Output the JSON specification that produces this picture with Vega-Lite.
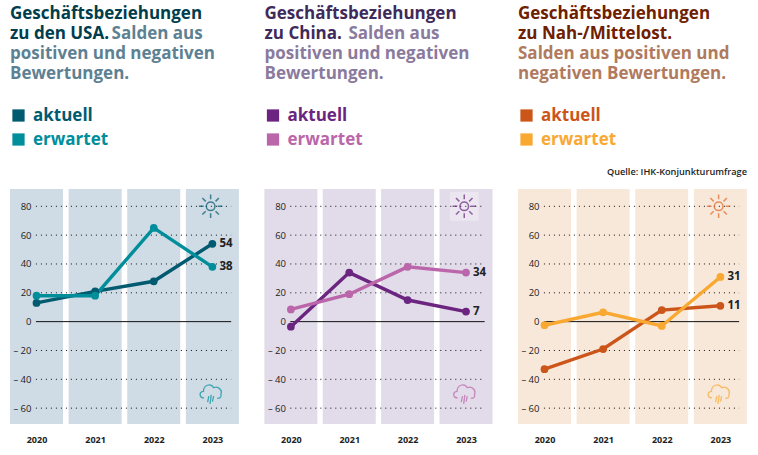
{
  "$schema": "https://vega.github.io/schema/vega-lite/v6.json",
  "background": "white",
  "padding": {"left": 9, "top": 5, "right": 0, "bottom": 0},
  "spacing": 24.5,
  "resolve": {"scale": {"color": "independent"}, "legend": {"color": "independent"}},
  "config": {
    "view": {"stroke": null},
    "font": "Open Sans",
    "scale": {"continuousPadding": 0},
    "title": {
      "anchor": "start", "frame": "group", "font": "Open Sans", "fontSize": 17, "fontWeight": 700, "lineHeight": 20,
      "subtitleFont": "Open Sans", "subtitleFontSize": 17, "subtitleFontWeight": 700, "subtitleLineHeight": 20, "offset": 24
    },
    "axisX": {"title": null, "format": "d", "grid": false, "domain": false, "ticks": false, "labelFontSize": 9, "labelFontWeight": 700, "labelColor": "#222222", "labelPadding": 11},
    "axisY": {"title": null, "grid": false, "domain": false, "ticks": false, "labelFontSize": 9.5, "labelColor": "#222222", "labelPadding": -21, "labelExpr": "datum.value < 0 ? '– ' + abs(datum.value) : datum.value"},
    "legend": {"orient": "none", "legendX": 0, "legendY": -82, "title": null, "symbolType": "square", "symbolSize": 150, "symbolStrokeWidth": 0, "labelFontSize": 17, "labelFontWeight": 700, "labelOffset": 6, "rowPadding": 6, "symbolOffset": 0}
  },
  "datasets": {
    "years": [{"year": 2020}, {"year": 2021}, {"year": 2022}, {"year": 2023}],
    "ticks": [{"tick": 80}, {"tick": 60}, {"tick": 40}, {"tick": 20}, {"tick": -20}, {"tick": -40}, {"tick": -60}],
    "usa": [
      {"year": 2020, "reihe": "aktuell", "saldo": 13},
      {"year": 2021, "reihe": "aktuell", "saldo": 21},
      {"year": 2022, "reihe": "aktuell", "saldo": 28},
      {"year": 2023, "reihe": "aktuell", "saldo": 54},
      {"year": 2020, "reihe": "erwartet", "saldo": 18},
      {"year": 2021, "reihe": "erwartet", "saldo": 18},
      {"year": 2022, "reihe": "erwartet", "saldo": 65},
      {"year": 2023, "reihe": "erwartet", "saldo": 38}
    ],
    "china": [
      {"year": 2020, "reihe": "aktuell", "saldo": -3.5},
      {"year": 2021, "reihe": "aktuell", "saldo": 34},
      {"year": 2022, "reihe": "aktuell", "saldo": 15},
      {"year": 2023, "reihe": "aktuell", "saldo": 7},
      {"year": 2020, "reihe": "erwartet", "saldo": 8.5},
      {"year": 2021, "reihe": "erwartet", "saldo": 19},
      {"year": 2022, "reihe": "erwartet", "saldo": 38},
      {"year": 2023, "reihe": "erwartet", "saldo": 34}
    ],
    "nahost": [
      {"year": 2020, "reihe": "aktuell", "saldo": -33},
      {"year": 2021, "reihe": "aktuell", "saldo": -19},
      {"year": 2022, "reihe": "aktuell", "saldo": 8},
      {"year": 2023, "reihe": "aktuell", "saldo": 11},
      {"year": 2020, "reihe": "erwartet", "saldo": -2.5},
      {"year": 2021, "reihe": "erwartet", "saldo": 6.5},
      {"year": 2022, "reihe": "erwartet", "saldo": -3},
      {"year": 2023, "reihe": "erwartet", "saldo": 31}
    ]
  },
  "hconcat": [
    {
      "width": 229,
      "height": 235,
      "title": {
        "text": ["Geschäftsbeziehungen", "zu den USA."],
        "subtitle": ["\u200b\u00a0\u00a0\u00a0\u00a0\u00a0\u00a0\u00a0\u00a0\u00a0\u00a0\u00a0\u00a0\u00a0\u00a0\u00a0\u00a0\u00a0\u00a0\u00a0\u00a0\u00a0\u00a0\u00a0Salden aus", "positiven und negativen", "Bewertungen."],
        "color": "#003d4d",
        "subtitleColor": "#5d8193",
        "subtitlePadding": -17
      },
      "layer": [
        {
          "data": {"name": "years"},
          "mark": {"type": "bar", "size": 53, "color": "#cfdbe5"},
          "encoding": {
            "x": {"field": "year", "type": "quantitative", "scale": {"domain": [2019.548, 2023.454]}, "axis": {"values": [2020, 2021, 2022, 2023]}},
            "y": {"datum": -71, "type": "quantitative", "scale": {"domain": [-71, 92], "nice": false}},
            "y2": {"datum": 92}
          }
        },
        {
          "data": {"name": "ticks"},
          "mark": {"type": "rule", "color": "#111111", "strokeDash": [1, 4], "strokeWidth": 1},
          "encoding": {
            "x": {"datum": 2019.99, "type": "quantitative", "scale": {"domain": [2019.548, 2023.454]}},
            "x2": {"datum": 2023.32},
            "y": {"field": "tick", "type": "quantitative", "scale": {"domain": [-71, 92], "nice": false}, "axis": {"values": [80, 60, 40, 20, 0, -20, -40, -60], "tickCount": 8, "zindex": 1, "labelOverlap": false}}
          }
        },
        {
          "data": {"values": [{"tick": 0}]},
          "mark": {"type": "rule", "color": "#111111", "strokeWidth": 1},
          "encoding": {
            "x": {"datum": 2019.99, "type": "quantitative", "scale": {"domain": [2019.548, 2023.454]}},
            "x2": {"datum": 2023.32},
            "y": {"field": "tick", "type": "quantitative", "scale": {"domain": [-71, 92], "nice": false}}
          }
        },
        {
          "data": {"values": [{"icon": "sonne"}]},
          "mark": {"type": "point", "filled": false, "size": 576, "strokeWidth": 1.5, "color": "#00596e", "shape": "M0.36,0A0.36,0.36,0,1,1,-0.36,0A0.36,0.36,0,1,1,0.36,0ZM0,-0.58L0,-0.98M0,0.58L0,0.98M-0.58,0L-0.98,0M0.58,0L0.98,0M0.41,-0.41L0.69,-0.69M-0.41,-0.41L-0.69,-0.69M0.41,0.41L0.69,0.69M-0.41,0.41L-0.69,0.69"},
          "encoding": {
            "x": {"datum": 2022.97, "type": "quantitative", "scale": {"domain": [2019.548, 2023.454]}},
            "y": {"datum": 80, "type": "quantitative", "scale": {"domain": [-71, 92], "nice": false}}
          }
        },
        {
          "data": {"values": [{"icon": "regen"}]},
          "mark": {"type": "point", "filled": false, "size": 576, "strokeWidth": 1.3, "color": "#00909e", "shape": "M-0.55,0.35C-0.95,0.35,-1,-0.15,-0.6,-0.2C-0.6,-0.7,0,-0.95,0.25,-0.5C0.7,-0.7,1,-0.2,0.85,0.05C0.95,0.3,0.75,0.38,0.55,0.38M-0.15,0.2L-0.25,0.7M0.05,0.1L-0.05,0.85M0.25,0.2L0.15,0.65"},
          "encoding": {
            "x": {"datum": 2022.97, "type": "quantitative", "scale": {"domain": [2019.548, 2023.454]}},
            "y": {"datum": -50, "type": "quantitative", "scale": {"domain": [-71, 92], "nice": false}}
          }
        },
        {
          "data": {"name": "usa"},
          "mark": {"type": "line", "strokeWidth": 3.4, "point": {"size": 60, "filled": true}},
          "encoding": {
            "x": {"field": "year", "type": "quantitative", "scale": {"domain": [2019.548, 2023.454]}},
            "y": {"field": "saldo", "type": "quantitative", "scale": {"domain": [-71, 92], "nice": false}},
            "color": {"field": "reihe", "type": "nominal", "scale": {"domain": ["aktuell", "erwartet"], "range": ["#005a70", "#008e9b"]}, "legend": {"encode": {"labels": {"update": {"fill": {"signal": "datum.value === 'aktuell' ? '#005a70' : '#008e9b'"}}}, "symbols": {"update": {"fill": {"signal": "datum.value === 'aktuell' ? '#005a70' : '#008e9b'"}}}}}}
          }
        },
        {
          "data": {"name": "usa"},
          "transform": [{"filter": "datum.year === 2023"}],
          "mark": {"type": "text", "align": "left", "dx": 7, "fontSize": 11.5, "fontWeight": 700, "color": "#222222"},
          "encoding": {
            "x": {"field": "year", "type": "quantitative", "scale": {"domain": [2019.548, 2023.454]}},
            "y": {"field": "saldo", "type": "quantitative", "scale": {"domain": [-71, 92], "nice": false}},
            "text": {"field": "saldo", "type": "quantitative"}
          }
        }
      ]
    },
    {
      "width": 228,
      "height": 235,
      "title": {
        "text": ["Geschäftsbeziehungen", "zu China."],
        "subtitle": ["\u200b\u00a0\u00a0\u00a0\u00a0\u00a0\u00a0\u00a0\u00a0\u00a0\u00a0\u00a0\u00a0\u00a0\u00a0\u00a0\u00a0\u00a0\u00a0\u00a0Salden aus", "positiven und negativen", "Bewertungen."],
        "color": "#3f2a5c",
        "subtitleColor": "#8a7a9e",
        "subtitlePadding": -17
      },
      "layer": [
        {
          "data": {"name": "years"},
          "mark": {"type": "bar", "size": 53, "color": "#e2dbe9"},
          "encoding": {
            "x": {"field": "year", "type": "quantitative", "scale": {"domain": [2019.548, 2023.454]}, "axis": {"values": [2020, 2021, 2022, 2023]}},
            "y": {"datum": -71, "type": "quantitative", "scale": {"domain": [-71, 92], "nice": false}},
            "y2": {"datum": 92}
          }
        },
        {
          "data": {"values": [{"icon": "feld"}]},
          "mark": {"type": "point", "shape": "square", "filled": true, "size": 841, "color": "#ebe6f0", "opacity": 1},
          "encoding": {
            "x": {"datum": 2022.97, "type": "quantitative", "scale": {"domain": [2019.548, 2023.454]}},
            "y": {"datum": 80, "type": "quantitative", "scale": {"domain": [-71, 92], "nice": false}}
          }
        },
        {
          "data": {"name": "ticks"},
          "mark": {"type": "rule", "color": "#111111", "strokeDash": [1, 4], "strokeWidth": 1},
          "encoding": {
            "x": {"datum": 2019.99, "type": "quantitative", "scale": {"domain": [2019.548, 2023.454]}},
            "x2": {"datum": 2023.32},
            "y": {"field": "tick", "type": "quantitative", "scale": {"domain": [-71, 92], "nice": false}, "axis": {"values": [80, 60, 40, 20, 0, -20, -40, -60], "tickCount": 8, "zindex": 1, "labelOverlap": false}}
          }
        },
        {
          "data": {"values": [{"tick": 0}]},
          "mark": {"type": "rule", "color": "#111111", "strokeWidth": 1},
          "encoding": {
            "x": {"datum": 2019.99, "type": "quantitative", "scale": {"domain": [2019.548, 2023.454]}},
            "x2": {"datum": 2023.32},
            "y": {"field": "tick", "type": "quantitative", "scale": {"domain": [-71, 92], "nice": false}}
          }
        },
        {
          "data": {"values": [{"icon": "sonne"}]},
          "mark": {"type": "point", "filled": false, "size": 576, "strokeWidth": 1.5, "color": "#6b2580", "shape": "M0.36,0A0.36,0.36,0,1,1,-0.36,0A0.36,0.36,0,1,1,0.36,0ZM0,-0.58L0,-0.98M0,0.58L0,0.98M-0.58,0L-0.98,0M0.58,0L0.98,0M0.41,-0.41L0.69,-0.69M-0.41,-0.41L-0.69,-0.69M0.41,0.41L0.69,0.69M-0.41,0.41L-0.69,0.69"},
          "encoding": {
            "x": {"datum": 2022.97, "type": "quantitative", "scale": {"domain": [2019.548, 2023.454]}},
            "y": {"datum": 80, "type": "quantitative", "scale": {"domain": [-71, 92], "nice": false}}
          }
        },
        {
          "data": {"values": [{"icon": "regen"}]},
          "mark": {"type": "point", "filled": false, "size": 576, "strokeWidth": 1.3, "color": "#bb66aa", "shape": "M-0.55,0.35C-0.95,0.35,-1,-0.15,-0.6,-0.2C-0.6,-0.7,0,-0.95,0.25,-0.5C0.7,-0.7,1,-0.2,0.85,0.05C0.95,0.3,0.75,0.38,0.55,0.38M-0.15,0.2L-0.25,0.7M0.05,0.1L-0.05,0.85M0.25,0.2L0.15,0.65"},
          "encoding": {
            "x": {"datum": 2022.97, "type": "quantitative", "scale": {"domain": [2019.548, 2023.454]}},
            "y": {"datum": -50, "type": "quantitative", "scale": {"domain": [-71, 92], "nice": false}}
          }
        },
        {
          "data": {"name": "china"},
          "mark": {"type": "line", "strokeWidth": 3.4, "point": {"size": 60, "filled": true}},
          "encoding": {
            "x": {"field": "year", "type": "quantitative", "scale": {"domain": [2019.548, 2023.454]}},
            "y": {"field": "saldo", "type": "quantitative", "scale": {"domain": [-71, 92], "nice": false}},
            "color": {"field": "reihe", "type": "nominal", "scale": {"domain": ["aktuell", "erwartet"], "range": ["#6b2580", "#bb66aa"]}, "legend": {"encode": {"labels": {"update": {"fill": {"signal": "datum.value === 'aktuell' ? '#6b2580' : '#bb66aa'"}}}, "symbols": {"update": {"fill": {"signal": "datum.value === 'aktuell' ? '#6b2580' : '#bb66aa'"}}}}}}
          }
        },
        {
          "data": {"name": "china"},
          "transform": [{"filter": "datum.year === 2023"}],
          "mark": {"type": "text", "align": "left", "dx": 7, "fontSize": 11.5, "fontWeight": 700, "color": "#222222"},
          "encoding": {
            "x": {"field": "year", "type": "quantitative", "scale": {"domain": [2019.548, 2023.454]}},
            "y": {"field": "saldo", "type": "quantitative", "scale": {"domain": [-71, 92], "nice": false}},
            "text": {"field": "saldo", "type": "quantitative"}
          }
        }
      ]
    },
    {
      "width": 229,
      "height": 235,
      "title": {
        "text": ["Geschäftsbeziehungen", "zu Nah-/Mittelost."],
        "subtitle": ["Salden aus positiven und", "negativen Bewertungen."],
        "color": "#6e2000",
        "subtitleColor": "#b07a5e",
        "subtitlePadding": 3
      },
      "layer": [
        {
          "data": {"name": "years"},
          "mark": {"type": "bar", "size": 53, "color": "#f8e8da"},
          "encoding": {
            "x": {"field": "year", "type": "quantitative", "scale": {"domain": [2019.548, 2023.454]}, "axis": {"values": [2020, 2021, 2022, 2023]}},
            "y": {"datum": -71, "type": "quantitative", "scale": {"domain": [-71, 92], "nice": false}},
            "y2": {"datum": 92}
          }
        },
        {
          "data": {"name": "ticks"},
          "mark": {"type": "rule", "color": "#111111", "strokeDash": [1, 4], "strokeWidth": 1},
          "encoding": {
            "x": {"datum": 2019.99, "type": "quantitative", "scale": {"domain": [2019.548, 2023.454]}},
            "x2": {"datum": 2023.32},
            "y": {"field": "tick", "type": "quantitative", "scale": {"domain": [-71, 92], "nice": false}, "axis": {"values": [80, 60, 40, 20, 0, -20, -40, -60], "tickCount": 8, "zindex": 1, "labelOverlap": false}}
          }
        },
        {
          "data": {"values": [{"tick": 0}]},
          "mark": {"type": "rule", "color": "#111111", "strokeWidth": 1},
          "encoding": {
            "x": {"datum": 2019.99, "type": "quantitative", "scale": {"domain": [2019.548, 2023.454]}},
            "x2": {"datum": 2023.32},
            "y": {"field": "tick", "type": "quantitative", "scale": {"domain": [-71, 92], "nice": false}}
          }
        },
        {
          "data": {"values": [{"icon": "sonne"}]},
          "mark": {"type": "point", "filled": false, "size": 576, "strokeWidth": 1.5, "color": "#e0682a", "shape": "M0.36,0A0.36,0.36,0,1,1,-0.36,0A0.36,0.36,0,1,1,0.36,0ZM0,-0.58L0,-0.98M0,0.58L0,0.98M-0.58,0L-0.98,0M0.58,0L0.98,0M0.41,-0.41L0.69,-0.69M-0.41,-0.41L-0.69,-0.69M0.41,0.41L0.69,0.69M-0.41,0.41L-0.69,0.69"},
          "encoding": {
            "x": {"datum": 2022.97, "type": "quantitative", "scale": {"domain": [2019.548, 2023.454]}},
            "y": {"datum": 80, "type": "quantitative", "scale": {"domain": [-71, 92], "nice": false}}
          }
        },
        {
          "data": {"values": [{"icon": "regen"}]},
          "mark": {"type": "point", "filled": false, "size": 576, "strokeWidth": 1.3, "color": "#f9a832", "shape": "M-0.55,0.35C-0.95,0.35,-1,-0.15,-0.6,-0.2C-0.6,-0.7,0,-0.95,0.25,-0.5C0.7,-0.7,1,-0.2,0.85,0.05C0.95,0.3,0.75,0.38,0.55,0.38M-0.15,0.2L-0.25,0.7M0.05,0.1L-0.05,0.85M0.25,0.2L0.15,0.65"},
          "encoding": {
            "x": {"datum": 2022.97, "type": "quantitative", "scale": {"domain": [2019.548, 2023.454]}},
            "y": {"datum": -50, "type": "quantitative", "scale": {"domain": [-71, 92], "nice": false}}
          }
        },
        {
          "data": {"name": "nahost"},
          "mark": {"type": "line", "strokeWidth": 3.4, "point": {"size": 60, "filled": true}},
          "encoding": {
            "x": {"field": "year", "type": "quantitative", "scale": {"domain": [2019.548, 2023.454]}},
            "y": {"field": "saldo", "type": "quantitative", "scale": {"domain": [-71, 92], "nice": false}},
            "color": {"field": "reihe", "type": "nominal", "scale": {"domain": ["aktuell", "erwartet"], "range": ["#cc5519", "#f9a832"]}, "legend": {"encode": {"labels": {"update": {"fill": {"signal": "datum.value === 'aktuell' ? '#cc5519' : '#f9a832'"}}}, "symbols": {"update": {"fill": {"signal": "datum.value === 'aktuell' ? '#cc5519' : '#f9a832'"}}}}}}
          }
        },
        {
          "data": {"name": "nahost"},
          "transform": [{"filter": "datum.year === 2023"}],
          "mark": {"type": "text", "align": "left", "dx": 7, "fontSize": 11.5, "fontWeight": 700, "color": "#222222"},
          "encoding": {
            "x": {"field": "year", "type": "quantitative", "scale": {"domain": [2019.548, 2023.454]}},
            "y": {"field": "saldo", "type": "quantitative", "scale": {"domain": [-71, 92], "nice": false}},
            "text": {"field": "saldo", "type": "quantitative"}
          }
        },
        {
          "data": {"values": [{"quelle": "Quelle: IHK-Konjunkturumfrage"}]},
          "mark": {"type": "text", "align": "right", "fontSize": 9.2, "fontWeight": 600, "color": "#222222"},
          "encoding": {
            "x": {"datum": 2023.454, "type": "quantitative", "scale": {"domain": [2019.548, 2023.454]}},
            "y": {"datum": 104, "type": "quantitative", "scale": {"domain": [-71, 92], "nice": false}},
            "text": {"field": "quelle"}
          }
        }
      ]
    }
  ]
}
